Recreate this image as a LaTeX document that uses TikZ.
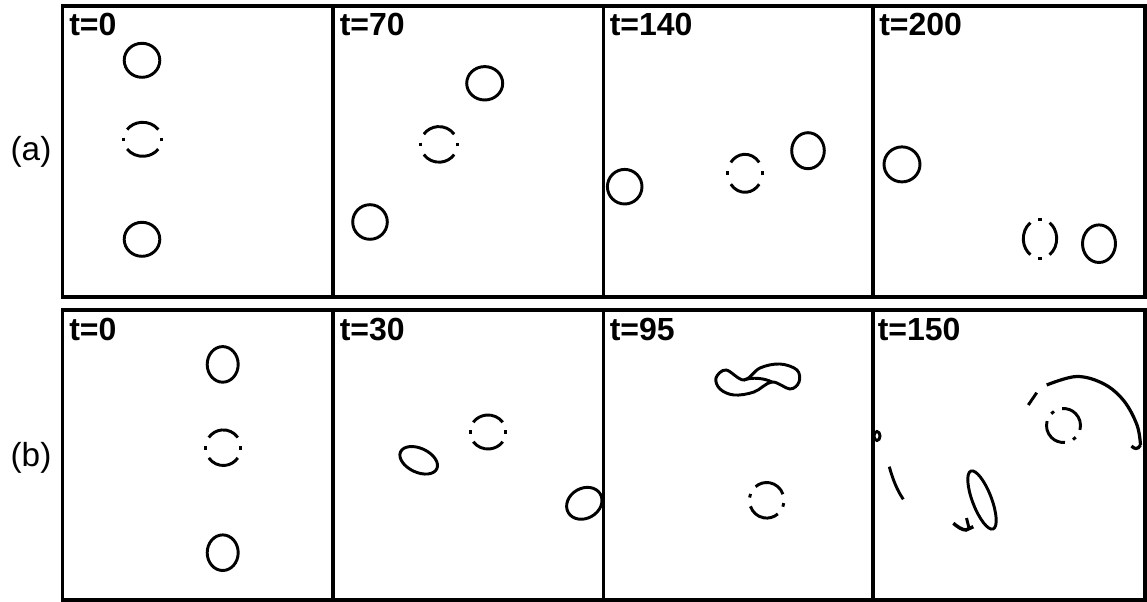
\documentclass[tikz,border=0pt]{standalone}
\usepackage{fontspec}
\setmainfont{Liberation Sans}
\newcommand\dashring[5]{%
  \foreach \s/\e in {35/145,215/325,174/186,354/366}{%
    \draw[ring] ([shift={({-(#5+\s)}:#3 and #4)}]#1,#2)
      arc[start angle={-(#5+\s)}, end angle={-(#5+\e)}, x radius=#3, y radius=#4];
  }}
\begin{document}
\begin{tikzpicture}[x=0.75pt,y=-0.75pt,
  frame/.style={line width=2.3pt},
  ring/.style={line width=2.2pt},
  tlab/.style={font=\fontsize{24}{24}\selectfont\bfseries, anchor=base west, inner sep=0pt},
  rlab/.style={font=\fontsize{25}{25}\selectfont, anchor=base, inner sep=0pt}]
\useasboundingbox (0,0) rectangle (1147,602);
% frames
\foreach \xa/\xb in {62.5/333,333/603.5,603.5/873,873/1145}{
  \draw[frame] (\xa,6) rectangle (\xb,297);
  \draw[frame] (\xa,310) rectangle (\xb,600);
}
% row labels
\node[rlab] (la) at (31,161) {(a)};
\node[rlab] (lb) at (31,466) {(b)};
% time labels
\node[tlab] (ta1) at (69,36) {t=0};
\node[tlab] (ta2) at (339.5,36) {t=70};
\node[tlab] (ta3) at (609.5,36) {t=140};
\node[tlab] (ta4) at (879,36) {t=200};
\node[tlab] (tb1) at (69,341) {t=0};
\node[tlab] (tb2) at (339.5,341) {t=30};
\node[tlab] (tb3) at (609.5,341) {t=95};
\node[tlab] (tb4) at (877.5,341) {t=150};
% row (a), panel 1
\draw[ring] (142,60.3) ellipse[x radius=17.8, y radius=17];
\dashring{142.7}{139.3}{19}{17}{0}
\draw[ring] (142,239.3) ellipse[x radius=17.8, y radius=17];
% panel 2
\draw[ring] (484.7,83.3) ellipse[x radius=18, y radius=16.7];
\dashring{439}{144.4}{18.5}{17.8}{0}
\draw[ring] (370,222) ellipse[x radius=17.3, y radius=17.3];
% panel 3
\draw[ring] (624.7,186.7) ellipse[x radius=17.3, y radius=17.3];
\dashring{745}{173.3}{17.3}{19}{0}
\draw[ring] (808,150.7) ellipse[x radius=16.3, y radius=18];
% panel 4
\draw[ring] (902,164.4) ellipse[x radius=18, y radius=17.5];
\dashring{1040}{238.7}{16.7}{19.5}{90}
\draw[ring] (1099,243.7) ellipse[x radius=16.5, y radius=18.8];
% row (b), panel 1
\draw[ring] (222.7,364.4) ellipse[x radius=15.5, y radius=17.8];
\dashring{223.3}{447.7}{17.7}{17.8}{0}
\draw[ring] (222.7,552.7) ellipse[x radius=15.5, y radius=17.8];
% panel 2
\draw[ring, shift={(418.7,460.3)}, rotate=-25] (0,0) ellipse[x radius=20, y radius=12];
\dashring{488}{432}{18}{17}{0}
\draw[ring, shift={(584.3,503.3)}, rotate=30] (0,0) ellipse[x radius=18.5, y radius=15];
% panel 3
\draw[ring] plot[smooth cycle, tension=0.6] coordinates {(716,378) (726,370) (744,380) (760,368) (780,364) (797,370) (799,382) (790,389) (772,382) (754,392) (734,395) (720,389)};
\draw[ring] (744,380) .. controls (752,377) and (764,378) .. (772,382);
\dashring{766.7}{500.3}{17.3}{17.8}{-15}
% panel 4
\draw[ring, line width=2.4pt] plot[smooth, tension=0.6] coordinates {(1046.7,385) (1076.7,376.5) (1104,384) (1124,401) (1137,425) (1140.5,445)};
\draw[ring, line width=2.4pt] (1140.5,445) .. controls (1138,450) and (1134,449) .. (1131.5,446);
\draw[ring] (1028.3,405) -- (1036.7,392.7);
\dashring{1063.5}{425.5}{17}{17}{-50}
\draw[ring] (877,436) ellipse[x radius=3, y radius=4.5];
\draw[ring] (889.3,466.7) .. controls (893,480) and (897,490) .. (903.3,499.3);
\draw[ring, shift={(982,500)}, rotate=-69] (0,0) ellipse[x radius=31, y radius=9.5];
\draw[ring, line width=2.6pt] (953.3,523.3) .. controls (958,527) and (962,530) .. (966,530) -- (973.3,526.7);
\draw[ring] (966.5,518) -- (969,528);
\end{tikzpicture}
\end{document}
